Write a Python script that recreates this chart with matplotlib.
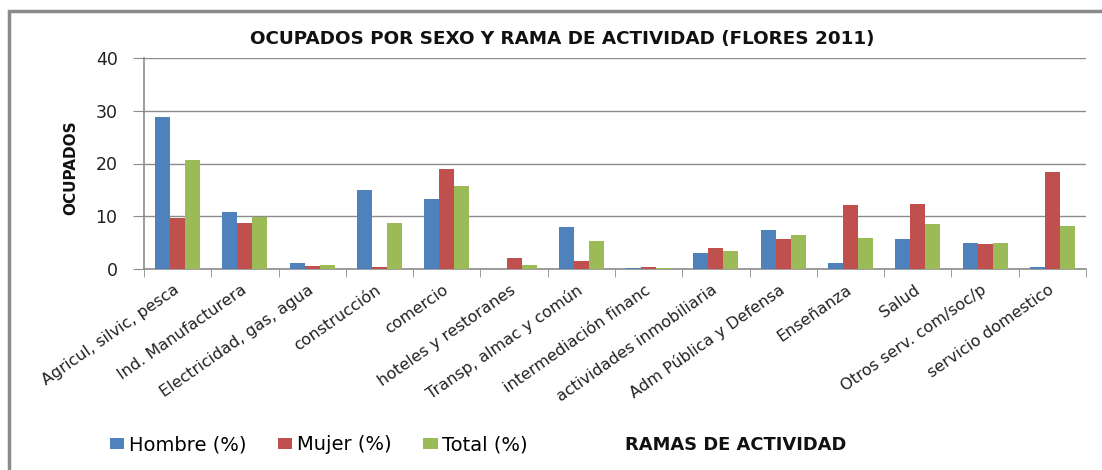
import numpy as np
import matplotlib.pyplot as plt
from matplotlib.patches import Rectangle

ramas = ['Agricul, silvic, pesca', 'Ind. Manufacturera', 'Electricidad, gas, agua',
         'construcción', 'comercio', 'hoteles y restoranes', 'Transp, almac y común',
         'intermediación financ', 'actividades inmobiliaria', 'Adm Pública y Defensa',
         'Enseñanza', 'Salud', 'Otros serv. com/soc/p', 'servicio domestico']
hombre = [28.9, 10.9, 1.2, 15.0, 13.2, 0.0, 7.9, 0.25, 3.0, 7.3, 1.2, 5.7, 4.9, 0.4]
mujer = [9.7, 8.7, 0.6, 0.4, 18.9, 2.0, 1.6, 0.4, 4.0, 5.6, 12.2, 12.4, 4.7, 18.4]
total = [20.7, 9.9, 0.8, 8.7, 15.7, 0.8, 5.3, 0.25, 3.4, 6.5, 5.9, 8.5, 4.9, 8.1]

plt.rcParams['font.family'] = ['DejaVu Sans']
W, H = 1102, 470
fig = plt.figure(figsize=(W / 100, H / 100), dpi=100)
ax = fig.add_axes([144 / W, 1 - 269 / H, (1086 - 144) / W, (269 - 58) / H])

# outer frame like the excel chart border
fig.patches.append(Rectangle((8.5 / W, -0.2), 1.2, 1.2 - 11 / H, transform=fig.transFigure,
                             fill=False, edgecolor='#8a8a8a', linewidth=2.5))

x = np.arange(len(ramas))
w = 0.223
gris = '#8c8c8c'
ax.bar(x - w, hombre, w, color='#4F81BD', label='Hombre (%)', zorder=3)
ax.bar(x, mujer, w, color='#C0504D', label='Mujer (%)', zorder=3)
ax.bar(x + w, total, w, color='#9BBB59', label='Total (%)', zorder=3)

ax.set_xlim(-0.5, len(ramas) - 0.5)
ax.set_ylim(0, 40)
ax.set_yticks([0, 10, 20, 30, 40])
ax.yaxis.grid(True, color=gris, linewidth=1)
ax.set_axisbelow(True)
for s in ['top', 'right']:
    ax.spines[s].set_visible(False)
for s in ['left', 'bottom']:
    ax.spines[s].set_color(gris)
    ax.spines[s].set_linewidth(1.2)
ax.tick_params(axis='y', length=8, color=gris, labelsize=12.5, pad=11, labelcolor='#222222')

ax.set_xticks(x)
ax.set_xticklabels(ramas, rotation=35, ha='right', va='center', rotation_mode='anchor',
                   fontsize=11.5, color='#222222')
ax.tick_params(axis='x', length=0, pad=14)
ax.set_xticks(np.arange(-0.5, len(ramas)), minor=True)
ax.tick_params(axis='x', which='minor', length=6, color=gris)

fig.text(562 / W, 1 - 39 / H, 'OCUPADOS POR SEXO Y RAMA DE ACTIVIDAD (FLORES 2011)',
         ha='center', va='center', fontsize=13.2, fontweight='bold', color='#111111')
fig.text(71 / W, 1 - 168 / H, 'OCUPADOS', rotation=90, ha='center', va='center',
         fontsize=11, fontweight='bold', color='#111111')
fig.text(736 / W, 1 - 445 / H, 'RAMAS DE ACTIVIDAD', ha='center', va='center',
         fontsize=12.9, fontweight='bold', color='#111111')

fig.legend(loc='center left', bbox_to_anchor=(100 / W, 1 - 445 / H), ncol=3, frameon=False,
           fontsize=14, handlelength=0.75, handleheight=0.55, handletextpad=0.25,
           columnspacing=1.6, borderpad=0)

fig.savefig('out.png', dpi=100)
